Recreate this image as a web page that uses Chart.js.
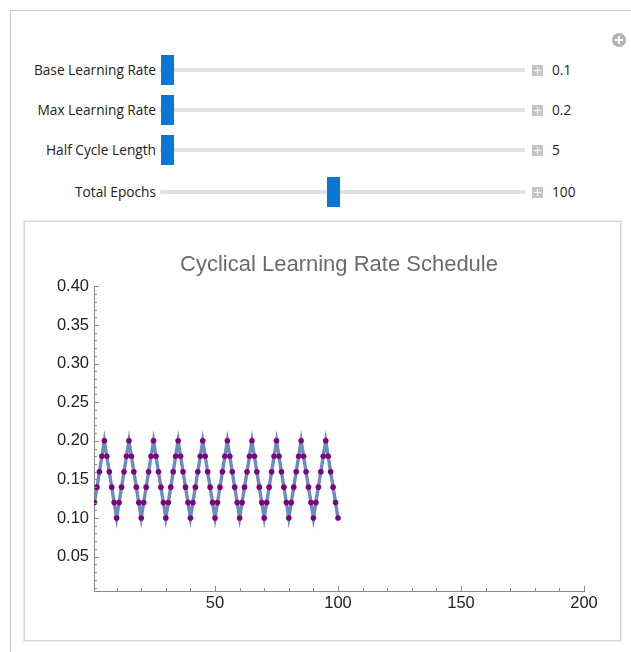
<!DOCTYPE html>
<html>
<head>
<meta charset="utf-8">
<script src="https://cdn.jsdelivr.net/npm/chart.js@4.4.1/dist/chart.umd.min.js"></script>
<style>
  html, body { margin: 0; padding: 0; background: #fff; }
  body { width: 631px; height: 652px; position: relative; overflow: hidden; font-family: "Open Sans", "Noto Sans", sans-serif; }
  .outer { position: absolute; left: 10px; top: 10px; width: 640px; height: 660px; border: 1px solid #c9c9c9; }
  .gear { position: absolute; left: 612px; top: 33px; width: 14px; height: 14px; border-radius: 50%; background: #b4b4b4; }
  .gear:before, .gear:after { content: ""; position: absolute; background: #fff; }
  .gear:before { left: 3px; top: 6px; width: 8px; height: 2px; }
  .gear:after { left: 6px; top: 3px; width: 2px; height: 8px; }
  .row { position: absolute; left: 0; height: 30px; width: 631px; }
  .row .lbl { position: absolute; right: 475px; top: 5px; font-size: 13.7px; color: #222; white-space: nowrap; }
  .row .track { position: absolute; left: 160px; width: 365px; top: 13px; height: 4px; background: #e2e2e2; border-radius: 1px; }
  .row .thumb { position: absolute; top: 0; width: 13px; height: 30px; background: #0a77d5; }
  .row .plus { position: absolute; left: 532px; top: 10px; width: 11px; height: 11px; background: #c4c4c4; }
  .row .plus:before, .row .plus:after { content: ""; position: absolute; background: #fff; }
  .row .plus:before { left: 2px; top: 5px; width: 7px; height: 1px; }
  .row .plus:after { left: 5px; top: 2px; width: 1px; height: 7px; }
  .row .val { position: absolute; left: 552px; top: 5px; font-size: 13.7px; color: #222; }
  .plotbox { position: absolute; left: 24px; top: 221px; width: 595px; height: 418px; border: 1px solid #d4d4d4; box-shadow: 0 0 0 1px #ececec; background: #fff; }
  #chart { position: absolute; left: 0; top: 0; }
</style>
</head>
<body>
<div class="outer"></div>
<div class="gear"></div>
<div id="controls"></div>
<div class="plotbox"><canvas id="chart" width="595" height="418"></canvas></div>
<script>
// slider panel (Manipulate controls)
const controlLabels = ['Base Learning Rate', 'Max Learning Rate', 'Half Cycle Length', 'Total Epochs'];
const controlValues = ['0.1', '0.2', '5', '100'];
const thumbLefts = [161, 161, 161, 327];
const rowTops = [55, 95, 135, 177];

const controls = document.getElementById('controls');
controlLabels.forEach((name, i) => {
  const row = document.createElement('div');
  row.className = 'row';
  row.style.top = rowTops[i] + 'px';
  row.innerHTML = `<span class="lbl">${name}</span><div class="track"></div>` +
    `<div class="thumb" style="left:${thumbLefts[i]}px"></div><div class="plus"></div>` +
    `<span class="val">${controlValues[i]}</span>`;
  controls.appendChild(row);
});

// schedule data
const epochs = [
  1, 2, 3, 4, 5, 6, 7, 8, 9, 10, 11, 12, 13, 14, 15, 16, 17, 18, 19, 20,
  21, 22, 23, 24, 25, 26, 27, 28, 29, 30, 31, 32, 33, 34, 35, 36, 37, 38, 39, 40,
  41, 42, 43, 44, 45, 46, 47, 48, 49, 50, 51, 52, 53, 54, 55, 56, 57, 58, 59, 60,
  61, 62, 63, 64, 65, 66, 67, 68, 69, 70, 71, 72, 73, 74, 75, 76, 77, 78, 79, 80,
  81, 82, 83, 84, 85, 86, 87, 88, 89, 90, 91, 92, 93, 94, 95, 96, 97, 98, 99, 100
];
const learningRates = [
  0.12, 0.14, 0.16, 0.18, 0.20, 0.18, 0.16, 0.14, 0.12, 0.10,
  0.12, 0.14, 0.16, 0.18, 0.20, 0.18, 0.16, 0.14, 0.12, 0.10,
  0.12, 0.14, 0.16, 0.18, 0.20, 0.18, 0.16, 0.14, 0.12, 0.10,
  0.12, 0.14, 0.16, 0.18, 0.20, 0.18, 0.16, 0.14, 0.12, 0.10,
  0.12, 0.14, 0.16, 0.18, 0.20, 0.18, 0.16, 0.14, 0.12, 0.10,
  0.12, 0.14, 0.16, 0.18, 0.20, 0.18, 0.16, 0.14, 0.12, 0.10,
  0.12, 0.14, 0.16, 0.18, 0.20, 0.18, 0.16, 0.14, 0.12, 0.10,
  0.12, 0.14, 0.16, 0.18, 0.20, 0.18, 0.16, 0.14, 0.12, 0.10,
  0.12, 0.14, 0.16, 0.18, 0.20, 0.18, 0.16, 0.14, 0.12, 0.10,
  0.12, 0.14, 0.16, 0.18, 0.20, 0.18, 0.16, 0.14, 0.12, 0.10
];
const xTicks = [50, 100, 150, 200];
const yTicks = [0.05, 0.10, 0.15, 0.20, 0.25, 0.30, 0.35, 0.40];

const points = epochs.map((e, i) => ({ x: e, y: learningRates[i] }));

// Mathematica style ticks: drawn inward from the axes
const inwardTicks = {
  id: 'inwardTicks',
  afterDraw(chart) {
    const { ctx, chartArea, scales } = chart;
    const xs = scales.x, ys = scales.y;
    ctx.save();
    ctx.strokeStyle = '#8a8a8a';
    ctx.lineWidth = 1;
    ctx.beginPath();
    for (let v = 10; v <= 200; v += 10) {
      const px = Math.round(xs.getPixelForValue(v)) + 0.5;
      const len = v % 50 === 0 ? 5 : 3;
      ctx.moveTo(px, chartArea.bottom);
      ctx.lineTo(px, chartArea.bottom - len);
    }
    for (let k = 1; k <= 40; k++) {
      const py = Math.round(ys.getPixelForValue(k / 100)) + 0.5;
      const len = k % 5 === 0 ? 5 : 3;
      ctx.moveTo(chartArea.left, py);
      ctx.lineTo(chartArea.left + len, py);
    }
    ctx.stroke();
    ctx.restore();
  }
};

const tickFont = { family: 'Liberation Sans, Arial, sans-serif', size: 16.5 };

const chart = new Chart(document.getElementById('chart').getContext('2d'), {
  type: 'line',
  data: {
    datasets: [{
      label: 'points',
      data: points,
      showLine: false,
      pointRadius: 2.8,
      pointBackgroundColor: '#800080',
      pointBorderWidth: 0,
      order: 0
    }, {
      label: 'schedule',
      data: points,
      borderColor: 'rgba(92,128,182,0.9)',
      borderWidth: 3.4,
      pointRadius: 0,
      tension: 0,
      order: 1
    }]
  },
  options: {
    responsive: false,
    animation: false,
    layout: { padding: { left: 0, right: 36, top: 0, bottom: 0 } },
    plugins: {
      legend: { display: false },
      tooltip: { enabled: false },
      title: {
        display: true,
        text: 'Cyclical Learning Rate Schedule',
        fullSize: false,
        color: '#6b6b6b',
        font: { family: 'Liberation Sans, Arial, sans-serif', size: 22, weight: 'normal', lineHeight: 1.2 },
        padding: { top: 30, bottom: 8 }
      }
    },
    scales: {
      x: {
        type: 'linear',
        min: 0.8,
        max: 200,
        grid: { display: false, drawTicks: false },
        border: { display: true, color: '#8a8a8a' },
        afterBuildTicks: s => { s.ticks = xTicks.map(v => ({ value: v })); },
        afterFit: s => { s.height = 49; },
        ticks: {
          color: '#222',
          padding: 3,
          maxRotation: 0,
          font: tickFont,
          callback: v => String(v)
        }
      },
      y: {
        min: 0.0055,
        max: 0.40,
        grid: { display: false, drawTicks: false },
        border: { display: true, color: '#8a8a8a' },
        afterBuildTicks: s => { s.ticks = yTicks.map(v => ({ value: v })); },
        afterFit: s => { s.width = 69; },
        ticks: {
          color: '#222',
          padding: 5,
          font: tickFont,
          callback: v => v.toFixed(2)
        }
      }
    }
  },
  plugins: [inwardTicks]
});
</script>
</body>
</html>
